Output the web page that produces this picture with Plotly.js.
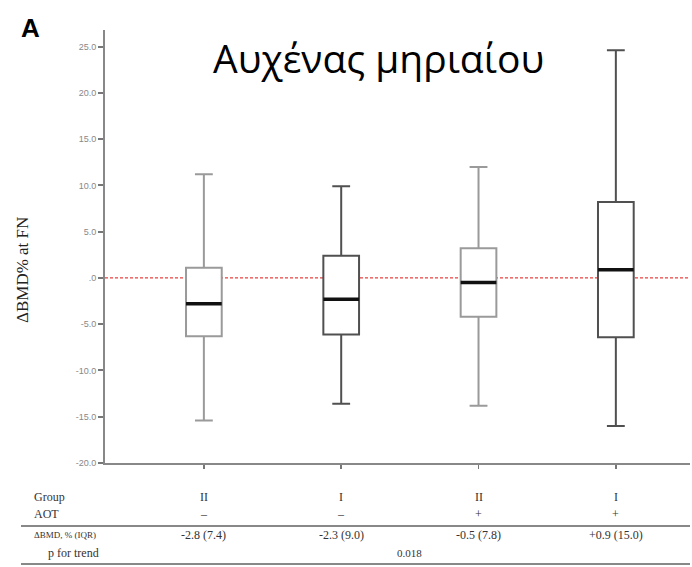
<!DOCTYPE html>
<html>
<head>
<meta charset="utf-8">
<script src="https://cdn.plot.ly/plotly-3.0.1.min.js"></script>
<style>html,body{margin:0;padding:0;background:#fff;}#chart{width:692px;height:567px;}</style>
</head>
<body>
<div id="chart"></div>
<script>
// ---- data ----
const positions = [0, 1, 2, 3];
const groupRow = ['II', 'I', 'II', 'I'];
const aotRow = ['–', '–', '+', '+'];
const dbmdRow = ['-2.8 (7.4)', '-2.3 (9.0)', '-0.5 (7.8)', '+0.9 (15.0)'];
const pTrend = '0.018';
const lowerWhisker = [-15.4, -13.6, -13.8, -16.0];
const q1Values = [-6.3, -6.1, -4.2, -6.4];
const medianValues = [-2.8, -2.3, -0.5, 0.9];
const q3Values = [1.1, 2.4, 3.2, 8.2];
const upperWhisker = [11.2, 9.9, 12.0, 24.6];
const yTickVals = [-20, -15, -10, -5, 0, 5, 10, 15, 20, 25];
const yTickText = ['-20.0', '-15.0', '-10.0', '-5.0', '.0', '5.0', '10.0', '15.0', '20.0', '25.0'];
const rowLabels = ['Group', 'AOT', 'ΔBMD, % (IQR)', 'p for trend'];
const titleText = 'Αυχένας μηριαίου';
const yTitle = 'ΔBMD% at FN';

// ---- styling ----
const boxColors = ['#9a9a9a', '#505050', '#9a9a9a', '#505050'];
const boxWidth = 0.26;
const W = 692, H = 567;
const M = {l: 105, r: 2, t: 30, b: 104};
const plotH = H - M.t - M.b, plotW = W - M.l - M.r;
const px = x => (x - M.l) / plotW;        // pixel x -> paper
const py = y => (H - M.b - y) / plotH;    // pixel y -> paper
const serif = 'Liberation Serif, Times New Roman, serif';

const traces = positions.map((p, i) => ({
  type: 'box',
  x: [p],
  q1: [q1Values[i]],
  median: [medianValues[i]],
  q3: [q3Values[i]],
  lowerfence: [lowerWhisker[i]],
  upperfence: [upperWhisker[i]],
  width: boxWidth,
  whiskerwidth: 0.5,
  fillcolor: '#ffffff',
  line: {color: boxColors[i], width: 2},
  boxpoints: false,
  hoverinfo: 'skip',
  showlegend: false
}));

// thick median bars
const mx = [], my = [];
positions.forEach((p, i) => {
  mx.push(p - boxWidth / 2, p + boxWidth / 2, null);
  my.push(medianValues[i], medianValues[i], null);
});
traces.push({type: 'scatter', mode: 'lines', x: mx, y: my,
  line: {color: '#111', width: 3.5}, hoverinfo: 'skip', showlegend: false});

const annotations = [];
// row labels
const rowY = [497, 514, 535, 553];
rowLabels.forEach((t, k) => {
  annotations.push({xref: 'paper', yref: 'paper', x: px(k === 3 ? 46 : 32), y: py(rowY[k]),
    xanchor: 'left', yanchor: 'middle', showarrow: false, text: t,
    font: {family: serif, size: k === 2 ? 9 : 12, color: '#333'}});
});
positions.forEach((p, i) => {
  annotations.push({xref: 'x', yref: 'paper', x: p, y: py(rowY[0]), showarrow: false,
    text: groupRow[i], font: {family: serif, size: 12, color: '#333'}, yanchor: 'middle'});
  annotations.push({xref: 'x', yref: 'paper', x: p, y: py(rowY[1]), showarrow: false,
    text: aotRow[i], font: {family: serif, size: 12, color: '#333'}, yanchor: 'middle'});
  annotations.push({xref: 'x', yref: 'paper', x: p, y: py(rowY[2]), showarrow: false,
    text: dbmdRow[i], font: {family: serif, size: 12, color: '#333'}, yanchor: 'middle'});
});
annotations.push({xref: 'x', yref: 'paper', x: (positions[1] + positions[2]) / 2, y: py(rowY[3]),
  showarrow: false, text: pTrend, font: {family: serif, size: 11, color: '#333'}, yanchor: 'middle'});
// y title
annotations.push({xref: 'paper', yref: 'paper', x: px(22), y: py(270), showarrow: false,
  text: yTitle, textangle: -90, font: {family: serif, size: 17, color: '#222'},
  xanchor: 'center', yanchor: 'middle'});
// panel letter
annotations.push({xref: 'paper', yref: 'paper', x: px(30), y: py(28), showarrow: false,
  text: '<b>A</b>', font: {family: 'Liberation Sans, Arial, sans-serif', size: 26, color: '#000'},
  xanchor: 'center', yanchor: 'middle'});
// main title
annotations.push({xref: 'paper', yref: 'paper', x: px(378), y: py(57), showarrow: false,
  text: titleText, font: {family: 'Open Sans, Noto Sans, sans-serif', size: 39, color: '#000'},
  xanchor: 'center', yanchor: 'middle'});

const shapes = [
  {type: 'line', xref: 'paper', yref: 'y', x0: 0, x1: 1, y0: 0, y1: 0,
   line: {color: '#e8423f', width: 1.2, dash: '3px,2px'}, layer: 'below'},
  {type: 'line', xref: 'paper', yref: 'paper', x0: px(21), x1: 1, y0: py(526), y1: py(526),
   line: {color: '#888', width: 2}},
  {type: 'line', xref: 'paper', yref: 'paper', x0: px(21), x1: 1, y0: py(564), y1: py(564),
   line: {color: '#888', width: 2}}
];

const layout = {
  width: W, height: H,
  margin: M,
  paper_bgcolor: '#fff', plot_bgcolor: '#fff',
  showlegend: false,
  xaxis: {range: [-0.72, 3.54], tickvals: positions, ticktext: positions.map(() => ''),
    ticks: 'outside', ticklen: 4, tickwidth: 1.5, tickcolor: '#777',
    showline: true, linecolor: '#888', linewidth: 2, showgrid: false, zeroline: false, fixedrange: true},
  yaxis: {range: [-20, 26.8], tickvals: yTickVals, ticktext: yTickText,
    ticks: 'outside', ticklen: 5, tickwidth: 2, tickcolor: '#777',
    tickfont: {family: 'Liberation Sans, Arial, sans-serif', size: 9, color: '#888'},
    showline: true, linecolor: '#888', linewidth: 2, showgrid: false, zeroline: false, fixedrange: true},
  annotations: annotations,
  shapes: shapes
};

Plotly.newPlot('chart', traces, layout, {staticPlot: true, displayModeBar: false});
</script>
</body>
</html>
